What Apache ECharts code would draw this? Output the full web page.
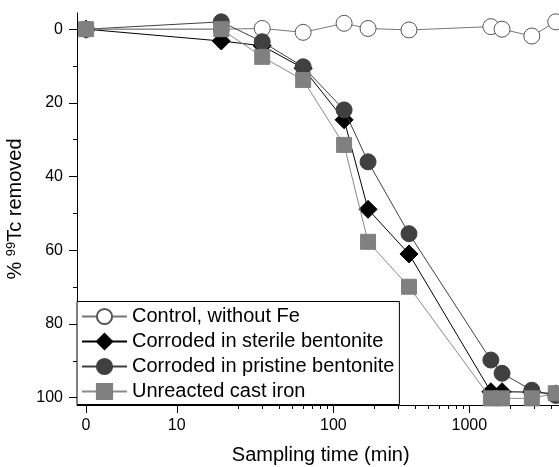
<!DOCTYPE html>
<html>
<head>
<meta charset="utf-8">
<script src="https://cdn.jsdelivr.net/npm/echarts@6/dist/echarts.min.js"></script>
<style>html,body{margin:0;padding:0;background:#fff}#c{width:559px;height:467px}</style>
</head>
<body>
<div id="c"></div>
<script>
// ---- data ----
const times = [0, 15, 30, 60, 120, 180, 360, 1440, 1740, 2880, 4320];
const seriesNames = ['Control, without Fe', 'Corroded in sterile bentonite', 'Corroded in pristine bentonite', 'Unreacted cast iron'];
const control   = [0, 0, -0.2, 0.85, -1.6, -0.2, 0.2, -0.7, 0.0, 1.85, -2.0];
const sterile   = [0, 3.2, 4.5, 10.6, 24.6, 48.9, 61.0, 98.4, 98.4, 98.5, 99.0];
const pristine  = [0, -2.0, 3.4, 10.2, 21.9, 36.0, 55.5, 89.8, 93.4, 98.0, 99.4];
const unreacted = [0, 0.0, 7.5, 13.8, 31.4, 57.7, 69.9, 100.2, 100.2, 100.2, 98.8];
const xTickLabels = ['0', '10', '100', '1000'];
const xTickPositions = [1.52, 7.06, 100, 1000];
const xMinorTicks = [20, 30, 40, 50, 60, 70, 80, 90, 200, 300, 400, 500, 600, 700, 800, 900, 2000, 3000, 4000];
const yTicks = [0, 20, 40, 60, 80, 100];
const yMinorTicks = [10, 30, 50, 70, 90];
const ZERO_POS = 1.52; // where time 0 sits on the log axis

const FONT = '"Liberation Sans", Arial, sans-serif';
const X_MIN = 1.304, X_MAX = 5000, Y_MIN = -4.4, Y_MAX = 102;

function pts(vals) { return times.map((t, i) => [t === 0 ? ZERO_POS : t, vals[i]]); }
function xLabel(v) {
  let best = 0, bd = Infinity;
  xTickPositions.forEach((p, i) => { const d = Math.abs(Math.log(p) - Math.log(v)); if (d < bd) { bd = d; best = i; } });
  return xTickLabels[best];
}

const chart = echarts.init(document.getElementById('c'), null, {renderer: 'canvas'});
const styles = [
  {symbol: 'circle', size: 16, fill: '#ffffff', border: '#555555', line: '#777777'},
  {symbol: 'diamond', size: 18, fill: '#000000', border: '#000000', line: '#000000'},
  {symbol: 'circle', size: 16, fill: '#404040', border: '#404040', line: '#404040'},
  {symbol: 'rect', size: 15, fill: '#808080', border: '#808080', line: '#8a8a8a'}
];
const allData = [control, sterile, pristine, unreacted];

chart.setOption({
  animation: false,
  backgroundColor: '#fff',
  textStyle: {fontFamily: FONT},
  grid: {left: 77, top: 13, right: -5.4, bottom: 62, outerBoundsMode: 'none', containLabel: false},
  legend: {
    orient: 'vertical', left: 77, top: 301.5,
    padding: [5, 5, 3, 4],
    itemWidth: 45, itemHeight: 19, itemGap: 5,
    backgroundColor: '#fff', borderColor: '#000', borderWidth: 1, borderRadius: 0,
    selectedMode: false,
    textStyle: {fontSize: 20, color: '#000', fontFamily: FONT},
    data: seriesNames
  },
  xAxis: [
    {
      type: 'log', min: X_MIN, max: X_MAX, position: 'bottom',
      name: 'Sampling time (min)', nameLocation: 'middle', nameGap: 40,
      nameTextStyle: {fontSize: 20, color: '#000', fontFamily: FONT},
      axisLine: {show: true, onZero: false, lineStyle: {color: '#000', width: 1}},
      axisTick: {show: true, inside: false, length: 8, customValues: xTickPositions, lineStyle: {color: '#000', width: 1}},
      axisLabel: {show: true, customValues: xTickPositions, margin: 13, fontSize: 16, color: '#000', fontFamily: FONT, formatter: xLabel},
      splitLine: {show: false}, minorTick: {show: false}
    },
    {
      type: 'log', min: X_MIN, max: X_MAX, position: 'bottom',
      axisLine: {show: false, onZero: false},
      axisTick: {show: true, inside: false, length: 4, customValues: xMinorTicks, lineStyle: {color: '#000', width: 1}},
      axisLabel: {show: false},
      splitLine: {show: false}
    }
  ],
  yAxis: [
    {
      type: 'value', inverse: true, min: Y_MIN, max: Y_MAX, position: 'left',
      name: '% {sup|99}Tc removed', nameLocation: 'middle', nameGap: 42,
      nameTextStyle: {fontSize: 20, color: '#000', fontFamily: FONT,
        rich: {sup: {fontSize: 13, verticalAlign: 'top', color: '#000', fontFamily: FONT}}},
      axisLine: {show: true, onZero: false, lineStyle: {color: '#000', width: 1}},
      axisTick: {show: true, inside: false, length: 8, customValues: yTicks, lineStyle: {color: '#000', width: 1}},
      axisLabel: {show: true, customValues: yTicks, margin: 14, fontSize: 16, color: '#000', fontFamily: FONT},
      splitLine: {show: false}
    },
    {
      type: 'value', inverse: true, min: Y_MIN, max: Y_MAX, position: 'left',
      axisLine: {show: false, onZero: false},
      axisTick: {show: true, inside: false, length: 4, customValues: yMinorTicks, lineStyle: {color: '#000', width: 1}},
      axisLabel: {show: false},
      splitLine: {show: false}
    }
  ],
  series: allData.map((vals, i) => ({
    name: seriesNames[i],
    type: 'line',
    xAxisIndex: 0, yAxisIndex: 0,
    data: pts(vals),
    symbol: styles[i].symbol,
    symbolSize: styles[i].size,
    showAllSymbol: true,
    clip: false,
    lineStyle: {color: styles[i].line, width: 1},
    itemStyle: {color: styles[i].fill, borderColor: styles[i].border, borderWidth: 1, opacity: 1},
    emphasis: {disabled: true},
    z: 2 + i
  }))
});
</script>
</body>
</html>
